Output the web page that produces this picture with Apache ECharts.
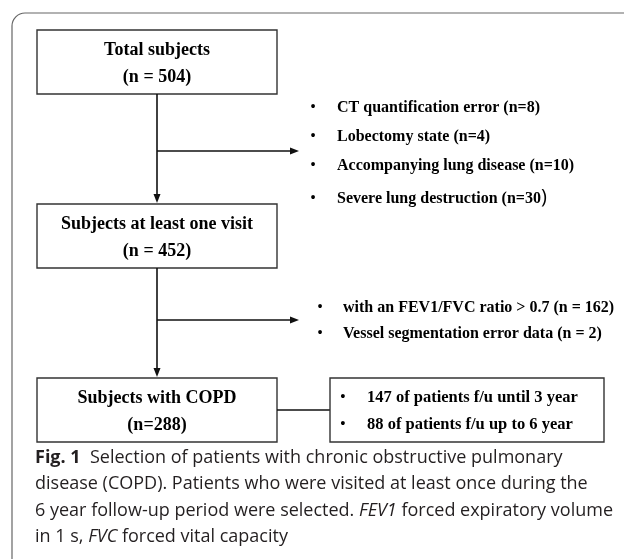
<!DOCTYPE html>
<html><head><meta charset="utf-8">
<script src="https://cdn.jsdelivr.net/npm/echarts@6/dist/echarts.min.js"></script>
<style>html,body{margin:0;padding:0;background:#fff}#c{width:624px;height:559px}</style>
</head><body><div id="c"></div>
<script>
// ---- content (data) ----
const boxTitles = ['Total subjects', 'Subjects at least one visit', 'Subjects with COPD'];
const boxCounts = ['(n = 504)', '(n = 452)', '(n=288)'];
const exclusionsStep1 = ['CT quantification error (n=8)', 'Lobectomy state (n=4)', 'Accompanying lung disease (n=10)', 'Severe lung destruction (n=30'];
const exclusionsStep2 = ['with an FEV1/FVC ratio > 0.7 (n = 162)', 'Vessel segmentation error data (n = 2)'];
const followUp = ['147 of patients f/u until 3 year', '88 of patients f/u up to 6 year'];
const captionLines = [
  '{b|Fig. 1}  Selection of patients with chronic obstructive pulmonary',
  'disease (COPD). Patients who were visited at least once during the',
  '6 year follow-up period were selected. {i|FEV1} forced expiratory volume',
  'in 1 s, {i|FVC} forced vital capacity'
];

// ---- layout ----
const SERIF = '"Liberation Serif","Times New Roman",serif';
const SANS = '"Open Sans","Noto Sans",sans-serif';
const LINE = '#111';
const BOX = '#333';
const g = [];

// outer frame
g.push({type:'rect', shape:{x:12, y:13, width:700, height:700, r:13}, style:{fill:'none', stroke:'#666', lineWidth:1.2}});

const boxes = [{x:37,y:30,w:240,h:64,t1:50,t2:77},{x:37,y:204,w:240,h:64,t1:224,t2:251},{x:37,y:378,w:240,h:64,t1:398,t2:425}];
boxes.forEach((b,i)=>{
  g.push({type:'rect', shape:{x:b.x,y:b.y,width:b.w,height:b.h}, style:{fill:'#fff', stroke:BOX, lineWidth:1.4}});
  const cx = b.x + b.w/2;
  g.push({type:'text', x:cx, y:b.t1, style:{text:boxTitles[i], fontFamily:SERIF, fontWeight:'bold', fontSize:18, fill:'#000', textAlign:'center', textVerticalAlign:'middle'}});
  g.push({type:'text', x:cx, y:b.t2, style:{text:boxCounts[i], fontFamily:SERIF, fontWeight:'bold', fontSize:18, fill:'#000', textAlign:'center', textVerticalAlign:'middle'}});
});

function line(x1,y1,x2,y2){ g.push({type:'line', shape:{x1,y1,x2,y2}, style:{stroke:LINE, lineWidth:1.6}}); }
function arrowDown(x,yTip){ g.push({type:'polygon', shape:{points:[[x-3.5,yTip-9],[x+3.5,yTip-9],[x,yTip]]}, style:{fill:LINE}}); }
function arrowRight(xTip,y){ g.push({type:'polygon', shape:{points:[[xTip-9,y-3.5],[xTip-9,y+3.5],[xTip,y]]}, style:{fill:LINE}}); }

const cx = 157;
line(cx,94,cx,196); arrowDown(cx,203);
line(cx,268,cx,371); arrowDown(cx,377);
line(cx,151,292,151); arrowRight(299,151);
line(cx,320,292,320); arrowRight(299,320);
line(277,410,330,410);
g.push({type:'rect', shape:{x:330,y:378,width:274,height:64}, style:{fill:'#fff', stroke:BOX, lineWidth:1.4}});

function bulletList(items, bx, tx, ys, size){
  items.forEach((t,i)=>{
    g.push({type:'text', x:bx, y:ys[i], style:{text:'•', fontFamily:SERIF, fontSize:size, fill:'#000', textAlign:'center', textVerticalAlign:'middle'}});
    const last = (items === exclusionsStep1 && i === items.length-1);
    g.push({type:'text', x:tx, y:ys[i], style:{
      text: last ? t + '{p|)}' : t,
      rich: {p:{fontFamily:SANS, fontSize:20, fontWeight:'normal', fill:'#000', padding:[0,0,4,0]}},
      fontFamily:SERIF, fontWeight:'bold', fontSize:size, fill:'#000', textAlign:'left', textVerticalAlign:'middle'}});
  });
}
bulletList(exclusionsStep1, 313, 337, [108,137,166,199], 16);
bulletList(exclusionsStep2, 320, 343, [308,334], 16);
bulletList(followUp, 343, 367, [398,425], 16.5);

captionLines.forEach((t,i)=>{
  g.push({type:'text', x:35, y:458 + i*26.3, style:{text:t, fontFamily:SANS, fontSize:18, fill:'#231f20', textAlign:'left', textVerticalAlign:'middle',
    rich:{b:{fontFamily:SANS, fontSize:18, fontWeight:'bold', fill:'#231f20'}, i:{fontFamily:SANS, fontSize:18, fontStyle:'italic', fill:'#231f20'}}}});
});

const chart = echarts.init(document.getElementById('c'));
chart.setOption({animation:false, graphic:{elements:g}});
</script></body></html>
